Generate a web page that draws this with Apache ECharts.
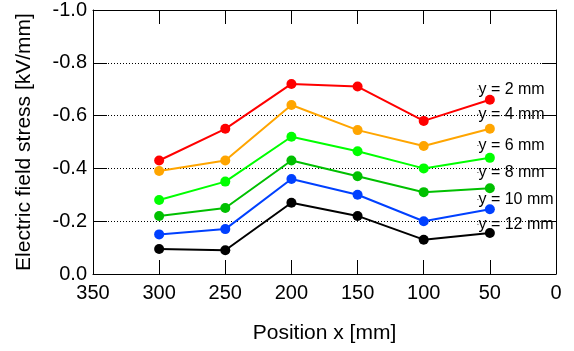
<!DOCTYPE html>
<html>
<head>
<meta charset="utf-8">
<script src="https://cdn.jsdelivr.net/npm/echarts@6/dist/echarts.min.js"></script>
<style>
html,body{margin:0;padding:0;background:#fff;}
#chart{width:574px;height:351px;}
</style>
</head>
<body>
<div id="chart"></div>
<script>
const positions = [300, 250, 200, 150, 100, 50];
const stress2mm  = [-0.43, -0.55, -0.72, -0.71, -0.58, -0.66];
const stress4mm  = [-0.39, -0.43, -0.64, -0.545, -0.485, -0.55];
const stress6mm  = [-0.28, -0.35, -0.52, -0.465, -0.40, -0.44];
const stress8mm  = [-0.22, -0.25, -0.43, -0.37, -0.31, -0.325];
const stress10mm = [-0.15, -0.17, -0.36, -0.30, -0.20, -0.245];
const stress12mm = [-0.095, -0.09, -0.27, -0.22, -0.13, -0.155];
const seriesNames = ['y = 2 mm', 'y = 4 mm', 'y = 6 mm', 'y = 8 mm', 'y = 10 mm', 'y = 12 mm'];
const labelX = [59, 59, 59, 59, 59, 59];
const labelY = [-0.70, -0.605, -0.487, -0.384, -0.282, -0.188];

const allValues = [stress2mm, stress4mm, stress6mm, stress8mm, stress10mm, stress12mm];
const colors = ['#ff0000', '#ffa500', '#00ff00', '#00c000', '#0040ff', '#000000'];
const font = 'Liberation Sans, Arial, sans-serif';

const chart = echarts.init(document.getElementById('chart'));

const lineSeries = allValues.map((vals, i) => ({
  name: seriesNames[i],
  type: 'line',
  data: positions.map((x, j) => [x, vals[j]]),
  symbol: 'circle',
  symbolSize: 10,
  lineStyle: { color: colors[i], width: 2 },
  itemStyle: { color: colors[i] },
  z: 3 + i
}));

const labelSeries = {
  type: 'scatter',
  data: seriesNames.map((n, i) => [labelX[i], labelY[i], n]),
  symbolSize: 1,
  itemStyle: { color: '#000', opacity: 1 },
  label: {
    show: true,
    position: 'right',
    distance: 0,
    formatter: p => p.data[2],
    color: '#000',
    opacity: 1,
    textBorderWidth: 0,
    fontSize: 16,
    fontFamily: font
  },
  silent: true,
  z: 10
};

const tickStyle = { inside: true, length: 14, lineStyle: { color: '#000', width: 1 } };
const lineStyleAxis = { show: true, onZero: false, lineStyle: { color: '#000', width: 1 } };

chart.setOption({
  animation: false,
  backgroundColor: '#fff',
  grid: { left: 93, right: 18, top: 9, bottom: 77 },
  xAxis: [
    {
      type: 'value', min: 0, max: 350, interval: 50, inverse: true, position: 'bottom',
      name: 'Position x [mm]', nameLocation: 'middle', nameGap: 49,
      nameTextStyle: { fontSize: 21, fontFamily: font, color: '#000' },
      axisLine: lineStyleAxis,
      axisTick: tickStyle,
      axisLabel: { fontSize: 20, fontFamily: font, color: '#000', margin: 9 },
      splitLine: { show: false }
    },
    {
      type: 'value', min: 0, max: 350, interval: 50, inverse: true, position: 'top',
      axisLine: lineStyleAxis,
      axisTick: tickStyle,
      axisLabel: { show: false },
      splitLine: { show: false }
    }
  ],
  yAxis: [
    {
      type: 'value', min: -1, max: 0, interval: 0.2, inverse: true, position: 'left',
      name: 'Electric field stress [kV/mm]', nameLocation: 'middle', nameGap: 58,
      nameTextStyle: { fontSize: 21, fontFamily: font, color: '#000' },
      axisLine: lineStyleAxis,
      axisTick: tickStyle,
      axisLabel: { fontSize: 20, fontFamily: font, color: '#000', margin: 6,
        formatter: v => (Math.abs(v) < 1e-9 ? 0 : v).toFixed(1) },
      splitLine: { show: true, lineStyle: { color: '#000', width: 1, type: [1, 2] } }
    },
    {
      type: 'value', min: -1, max: 0, interval: 0.2, inverse: true, position: 'right',
      axisLine: lineStyleAxis,
      axisTick: tickStyle,
      axisLabel: { show: false },
      splitLine: { show: false }
    }
  ],
  series: [...lineSeries, labelSeries]
});
</script>
</body>
</html>
